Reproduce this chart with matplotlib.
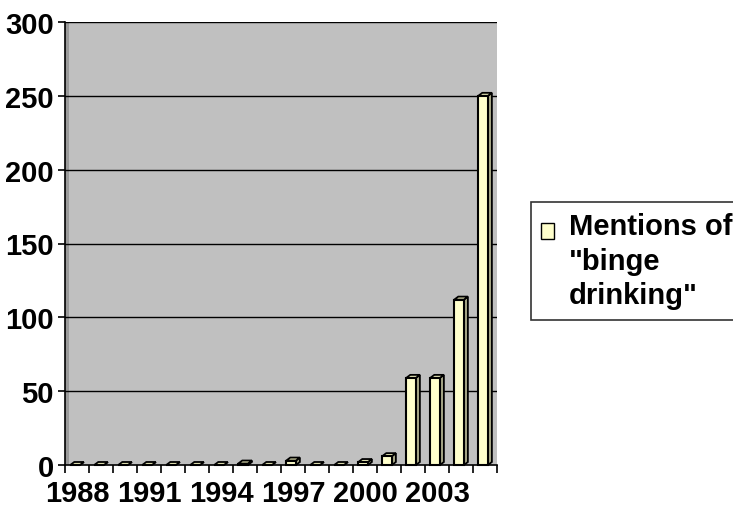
import numpy as np
import matplotlib
matplotlib.use("Agg")
import matplotlib.pyplot as plt
from matplotlib.patches import Polygon, Rectangle

plt.rcParams['font.family'] = ['Liberation Sans', 'DejaVu Sans']
plt.rcParams['font.weight'] = 'bold'

# data
years = list(range(1988, 2006))
mentions = [0, 0, 0, 0, 0, 0, 0, 1, 0, 3, 0, 0, 2, 6, 59, 59, 112, 250]
year_labels = ['1988', '1991', '1994', '1997', '2000', '2003']
label_years = [1988, 1991, 1994, 1997, 2000, 2003]
y_ticks = [0, 50, 100, 150, 200, 250, 300]
legend_text = 'Mentions of\n"binge\ndrinking"'

face_col = '#ffffcc'
side_col = '#a8a888'
top_col = '#e4e4b4'
wall_col = '#c0c0c0'
fs = 21

W, H = 733, 510
fig = plt.figure(figsize=(W / 100, H / 100), dpi=100)
ax_l, ax_r, ax_b, ax_t = 65, 497, 466, 23
ax = fig.add_axes([ax_l / W, 1 - ax_b / H, (ax_r - ax_l) / W, (ax_b - ax_t) / H])
ax.set_facecolor(wall_col)

n = len(years)
ax.set_xlim(-0.5, n - 0.5)
ax.set_ylim(0, 300)

# px -> data conversion for the fake 3D depth
px_x = n / (ax_r - ax_l)
px_y = 300 / (ax_b - ax_t)
dx = 4 * px_x
dy = 3 * px_y

for y in y_ticks[1:]:
    ax.axhline(y, color='black', lw=1, zorder=1)

bw = 0.4
for i, v in enumerate(mentions):
    x0 = i - 0.08 - bw / 2
    x1 = x0 + bw
    # side
    ax.add_patch(Polygon([(x1, 0), (x1 + dx, dy), (x1 + dx, v + dy), (x1, v)],
                         closed=True, facecolor=side_col, edgecolor='black',
                         lw=1.3, zorder=3, clip_on=False))
    # top
    ax.add_patch(Polygon([(x0, v), (x0 + dx, v + dy), (x1 + dx, v + dy), (x1, v)],
                         closed=True, facecolor=top_col, edgecolor='black',
                         lw=1.3, zorder=3, clip_on=False))
    # front
    ax.add_patch(Rectangle((x0, 0), bw, v, facecolor=face_col,
                           edgecolor='black', lw=1.5, zorder=4, clip_on=False))

# darker side wall strip on the left
ax.add_patch(Rectangle((-0.5, 0), 4 * px_x, 300, facecolor='#9a9a9a',
                       edgecolor='none', zorder=0.5))

for s in ['top', 'right']:
    ax.spines[s].set_visible(False)
ax.spines['left'].set_linewidth(1.2)
ax.spines['bottom'].set_linewidth(1.2)

ax.set_yticks(y_ticks)
ax.set_yticklabels([str(t) for t in y_ticks], fontsize=fs, fontweight='bold')
ax.tick_params(axis='y', length=5, width=1.2, pad=3)

ax.set_xticks([years.index(y) for y in label_years])
ax.set_xticklabels(year_labels, fontsize=fs, fontweight='bold')
ax.set_xticks(np.arange(n + 1) - 0.5, minor=True)
ax.tick_params(axis='x', which='major', length=0, pad=10)
ax.tick_params(axis='x', which='minor', length=6, width=1.2)

handle = Rectangle((0, 0), 1, 1, facecolor=face_col, edgecolor='black', lw=1)
leg = fig.legend([handle], [legend_text], loc='upper left',
                 bbox_to_anchor=(531 / W, 1 - 203 / H), borderaxespad=0,
                 prop={'size': fs, 'weight': 'bold'}, frameon=True,
                 fancybox=False, edgecolor='black', handlelength=0.45,
                 handleheight=0.45, handletextpad=0.5, borderpad=0.35)
leg.get_frame().set_linewidth(1.2)
for t in leg.get_texts():
    t.set_linespacing(1.3)
# put the colour box next to the first line, as in the original
for col in leg._legend_handle_box.get_children():
    for row in col.get_children():
        row.align = 'top'
        row.get_children()[0].height += 8

fig.savefig('out.png', dpi=100)
